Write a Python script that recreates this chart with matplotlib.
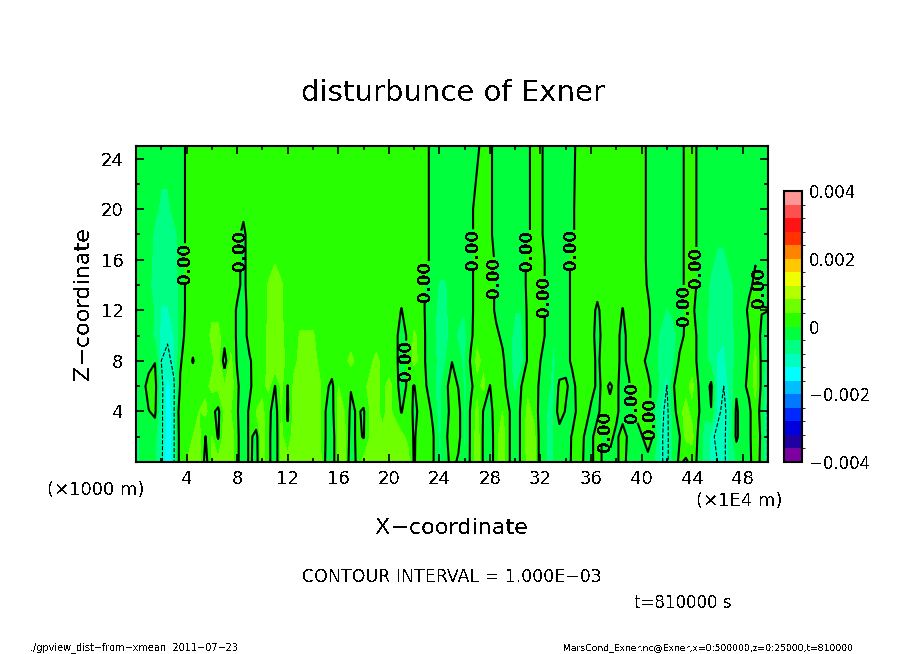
import numpy as np
import matplotlib
matplotlib.use("Agg")
import matplotlib.pyplot as plt
from matplotlib.colors import ListedColormap, BoundaryNorm
from matplotlib.ticker import MultipleLocator

plt.rcParams["font.family"] = "DejaVu Sans"
plt.rcParams["text.antialiased"] = False
plt.rcParams["lines.antialiased"] = False

# x nodes in units of 1E4 m, z nodes in units of 1000 m, rows below are in units of 1e-4
x_nodes = [i * 0.5 for i in range(101)]
z_nodes = [0, 2, 4, 6, 8, 10, 12, 14, 16, 18, 20, 25]

row_z0 = [-5,-3,-2,-4,-9,-15,-10.5,3,4,5,
 6,-2,5,5,6,7,1,-3,1,-2,
 6,1,-3,5,6,8,6,6,6,6,
 -0.5,-3,5,5,-3,1,5,6,5,5,
 5,5,5,6,-0.5,3,3,0.5,-5,-2,
 2,-1,-4,1,6,-1,-3,3,6,0.5,
 -3,1,5,5,-2,-4,-4,-3,-2,0.5,
 3,-1,-1,2,-1,-1,-1,2,-2,-2,
 -1,-2,-4,-9,-11.9,-3,1,-1,2,-1,
 -6,-9,-10,-11,-7,-4,-3,-1,2,-1,
 -11]
row_z2 = [-5,-3,-2,-3,-9,-14,-10.5,3,4,4,
 5,-0.1,4,-0.5,6,7,1,-3,1,-1.5,
 6,1,-3,5,0.8,7,6,6,6,5,
 0,-3,5,5,-2,1,-0.3,4,5,5,
 5,6,5,3,-0.5,2,3,0.5,-5,-1,
 3,2,-5,1,6,-1,-3,3,6,0.5,
 -3,1,6,5,-2,-4,-4,-3,-3,0.5,
 3,-0.5,-1,2,-1,1,-1,2,-1,-2,
 -0.5,3,-1,-9,-11.9,-3,-0.3,5,5,-1,
 -6,-9,-11,-11,-7,1,-3,-1,3,-1,
 -11]
row_z4 = [-5,-2,-0.2,1,-9,-14,-10.5,4,3,3,
 4,5,1,-1,5,4,0.5,-3,1,4,
 5,1,-2,4,-0.5,5,7,5,7,5,
 0,-1.5,5,4,-1,0.5,-0.5,4,5,3,
 5,3,-0.3,3,-1,1,2,-1,-6,-1,
 1,2,-5,1,5,-0.5,-2,3,4,0.5,
 -3,1,5,3,-2,-4,-5,3,-0.5,-3,
 2,3,-1,-1,2,1,1,-2,-2,0.5,
 4,2,-4,-8,-11.9,-2,3,5,3,0.5,
 -3,-0.2,-9,-11,-8,1,-3,-1,3,-2,
 -11]
row_z6 = [-5,-2,2,2,-9,-13,-10.5,0.5,3,3,
 3,3,5,5,4.5,6,1,-3,-1,3,
 3,5,-0.1,5,-0.1,5,5,6,6,5,
 1,-1,4,3,0.3,3,3,5,5,3,
 5,3,-3,1,-0.2,2,-0.1,-3,-6,-1,
 2,-0.2,-5,-1,3,5,-0.1,2,2,-2,
 -5,0.1,3,1,-0.5,-3,-5,1,1,-2,
 2,4,2,-1,1,-0.5,1,-2,-0.5,3,
 3,1,-1.5,-5,-10.1,-0.5,3,3,5,0,
 -3,1,-9,-10,-7,-1,-1,1,5,-1,
 -10.1]
row_z8 = [-5,-2,-2,-0.2,-10,-11,-9,-0.5,2,-0.3,
 2,2,3,6,-2,5,-0.5,-2,-0.5,2,
 2,5,7,5,3,3,5,6,6,3,
 3,2.5,3,3,5,3,3,3,5,3,
 2,2,-3,1,5,3,-1,-3,-5,-4,
 -0.1,-3,-5,1,5,3,2,2,1,-3,
 -6,-6,1,2,0,-2,-4.5,-3,-2,1,
 3,2,2,-1,2,3,1,-1,1,2,
 1,-1,-3,-5,-7,-5,1,3,2,-1,
 -3,-5,-8.5,-9,-6,-3,-2,0.5,5,-1,
 -8.5]
row_z10 = [-3,-2,-2,-5,-9,-9.5,-8,-3,2,2,
 2,2,5,5,2,2,-0.5,-2,2,2,
 2,5,7,5,2,2,4.5,4.5,4.5,2,
 2,2,2,2,2,2,2,2,2,2,
 2,2,-3,1,4.5,3,-1,-3,-6,-5,
 -3,-4.5,-5,-1,3,3,3,1,-1,-3,
 -5,-5,1,2,2,-1,-3.9,-2,-2,1,
 2,2,2,-2,2,2,2,-2,2,2,
 2,1,-2,-5,-6.5,-6,-2,1,2,-1,
 -3,-5,-7,-7.5,-6,-3,-2,-0.2,3,-1,
 -7]
row_z12 = [-3,-2,-2,-4.5,-8.5,-8.5,-6,-3,1,2,
 2,2,3,3,2,2,-0.5,-2,2,2,
 2,4.5,6,4.5,2,2,2,2,2,2,
 2,2,2,2,2,2,2,2,2,2,
 2,2,-0.2,2,2,2,-1,-3,-5,-5,
 -2,-3,-3.9,-1,2,2,2,-1,-2,-3,
 -3.9,-3.9,1,2,2,-1,-2,-2,-2,1,
 2,2,2,-1,2,2,2,-0.2,2,2,
 2,1,-2,-2,-4.5,-3,-2,0.5,1,-2,
 -3,-5,-6.5,-6.5,-5,-3,-2,1,2,0.2,
 0.2]
row_z14 = [-2,-2,-3,-6,-6,-6,-6,-3,1,2,
 2,2,2,2,2,2,1,-1,2,2,
 2,4.5,5,4.5,2,2,2,2,2,2,
 2,2,2,2,2,2,2,2,2,2,
 2,2,2,2,2,2,-1,-2,-4.5,-4.5,
 -2,-2,-2,-1,2,2,2,-1,-2,-2,
 -2,-2,1,2,2,-1,-2,-2,-2,1,
 2,2,2,2,2,2,2,2,2,2,
 2,-0.5,-2,-2,-2,-2,-2,1,2,-1,
 -2,-5,-6,-6,-5,-3,-2,-1,1,-1,
 -2]
row_z16 = [-2,-2,-3,-5,-5,-5,-5,-3,1,2,
 2,2,2,2,2,2,1,-1,2,2,
 2,2,3.8,2,2,2,2,2,2,2,
 2,2,2,2,2,2,2,2,2,2,
 2,2,2,2,2,2,1,-2,-2,-2,
 -2,-2,-2,-1,2,2,2,-1,-2,-2,
 -2,-2,1,2,2,-1,-2,-2,-2,1,
 2,2,2,2,2,2,2,2,2,2,
 2,-1,-2,-2,-2,-2,-2,1,2,-1,
 -2,-3,-5,-5,-3,-2,-2,-2,-0.3,-2,
 -2]
row_z18 = [-2,-2,-2,-5,-5,-5,-5,-3,1,2,
 2,2,2,2,2,2,1,-1,2,2,
 2,2,2,2,2,2,2,2,2,2,
 2,2,2,2,2,2,2,2,2,2,
 2,2,2,2,2,2,1,-2,-2,-2,
 -2,-2,-2,-1,2,2,1,-2,-2,-2,
 -2,-2,-1,2,1,-2,-2,-2,-2,-1,
 2,2,2,2,2,2,2,2,2,2,
 2,-1,-2,-2,-2,-2,-2,1,2,-1,
 -2,-2,-3,-3,-2,-2,-2,-2,-2,-2,
 -2]
row_z20 = [-2,-2,-2,-3,-5,-5,-3,-3,1,2,
 2,2,2,2,2,2,2,1,2,2,
 2,2,2,2,2,2,2,2,2,2,
 2,2,2,2,2,2,2,2,2,2,
 2,2,2,2,2,2,1,-2,-2,-2,
 -2,-2,-2,-1,2,2,1,-2,-2,-2,
 -2,-2,-1,2,1,-2,-2,-2,-2,-1,
 2,2,2,2,2,2,2,2,2,2,
 2,-1,-2,-2,-2,-2,-2,1,2,-1,
 -2,-2,-2,-2,-2,-2,-2,-2,-2,-2,
 -2]
row_z25 = [-2,-2,-2,-2,-2,-2,-2,-3,1,2,
 2,2,2,2,2,2,2,2,2,2,
 2,2,2,2,2,2,2,2,2,2,
 2,2,2,2,2,2,2,2,2,2,
 2,2,2,2,2,2,1,-2,-2,-2,
 -2,-2,-2,-2,-1,2,1,-2,-2,-2,
 -2,-2,-1,2,1,-2,-2,-2,-2,-1,
 1,2,2,2,2,2,2,2,2,2,
 2,-1,-2,-2,-2,-2,-2,1,2,-1,
 -2,-2,-2,-2,-2,-2,-2,-2,-2,-2,
 -2]

band_colors = ["#7d00a0", "#2000a0", "#0000dc", "#0028ff", "#0078ff", "#00beff", "#00ffff",
               "#00ffbe", "#00ff82", "#00ff3c", "#28ff00", "#6eff00", "#b4ff00", "#f0ff00",
               "#ffc800", "#ff8200", "#ff3200", "#ff1414", "#ff5050", "#ff9696"]
cbar_ticks = [-0.004, -0.002, 0, 0.002, 0.004]
cbar_labels = ["\u22120.004", "\u22120.002", "0", "0.002", "0.004"]
label_spots = [(3.95, 15.7), (8.0, 16.7), (21.3, 8.0), (22.9, 14.3), (26.7, 16.8), (28.4, 14.6),
               (30.7, 16.8), (32.4, 13.1), (34.3, 16.8), (37.3, 2.5), (38.9, 4.6), (41.0, 3.5),
               (43.5, 12.4), (44.3, 15.4), (49.2, 13.8)]

exner = np.array([row_z0, row_z2, row_z4, row_z6, row_z8, row_z10, row_z12,
                  row_z14, row_z16, row_z18, row_z20, row_z25]) * 1e-4
X, Z = np.meshgrid(x_nodes, z_nodes)

W, H = 904, 654
fig = plt.figure(figsize=(W / 100, H / 100), dpi=100)
ax = fig.add_axes([136 / W, 1 - 462 / H, (768 - 136) / W, (462 - 146) / H])

levels = np.linspace(-0.004, 0.004, 21)
cmap = ListedColormap(band_colors)
norm = BoundaryNorm(levels, cmap.N)
cf = ax.contourf(X, Z, exner, levels=levels, cmap=cmap, norm=norm, antialiased=False)

ax.contour(X, Z, exner, levels=[-0.001], colors="k", linewidths=0.8, linestyles="--")
cs = ax.contour(X, Z, exner, levels=[0], colors="k", linewidths=1.5, linestyles="-")
labels = ax.clabel(cs, fmt="%.2f", manual=label_spots, inline=True, inline_spacing=2, fontsize=12)
for t in labels:
    t.set_rotation(90)
    t.set_fontweight("bold")

ax.set_xlim(0, 50)
ax.set_ylim(0, 25)
ax.xaxis.set_major_locator(MultipleLocator(4))
ax.xaxis.set_minor_locator(MultipleLocator(2))
ax.yaxis.set_major_locator(MultipleLocator(4))
ax.yaxis.set_minor_locator(MultipleLocator(2))
ax.tick_params(which="major", direction="in", length=5.5, width=1.2, top=True, right=True, labelsize=13)
ax.tick_params(axis="x", which="major", pad=6)
ax.tick_params(axis="y", which="major", pad=9)
ax.tick_params(which="minor", direction="in", length=3, width=1.2, top=True, right=True)
ax.set_xticks(range(4, 49, 4))
ax.set_yticks(range(4, 25, 4))
for side in ax.spines.values():
    side.set_linewidth(1.5)

cax = fig.add_axes([784 / W, 1 - 462 / H, 18 / W, (462 - 191) / H])
cb = fig.colorbar(cf, cax=cax, ticks=cbar_ticks, drawedges=False)
cb.ax.set_yticklabels(cbar_labels)
cb.ax.tick_params(length=0, labelsize=12, pad=5)
cb.outline.set_linewidth(1.5)

fig.text(453 / W, 1 - 93 / H, "disturbunce of Exner", fontsize=21, ha="center", va="center")
fig.text(452 / W, 1 - 528 / H, "X\u2212coordinate", fontsize=16, ha="center", va="center")
fig.text(83 / W, 1 - 304 / H, "Z\u2212coordinate", fontsize=16, ha="center", va="center", rotation=90)
fig.text(96 / W, 1 - 490 / H, "(\u00d71000 m)", fontsize=13, ha="center", va="center")
fig.text(739 / W, 1 - 501 / H, "(\u00d71E4 m)", fontsize=13, ha="center", va="center")
fig.text(452 / W, 1 - 577 / H, "CONTOUR INTERVAL = 1.000E\u221203", fontsize=12.5, ha="center", va="center")
fig.text(634 / W, 1 - 603 / H, "t=810000 s", fontsize=12, ha="left", va="center")
fig.text(30 / W, 1 - 648 / H, "./gpview_dist\u2212from\u2212xmean  2011\u221207\u221223", fontsize=7, ha="left", va="center")
fig.text(563 / W, 1 - 648 / H, "MarsCond_Exner.nc@Exner,x=0:500000,z=0:25000,t=810000", fontsize=6.7, ha="left", va="center")

fig.savefig("out.png", dpi=100)
